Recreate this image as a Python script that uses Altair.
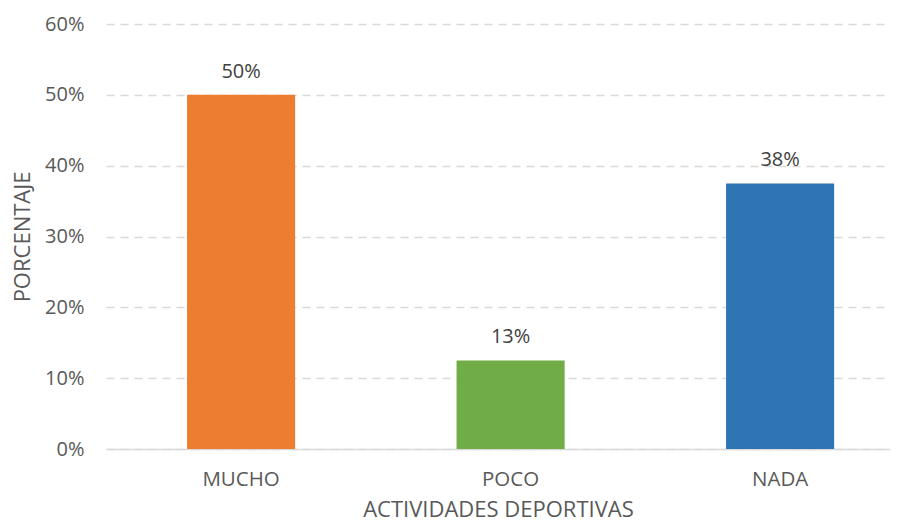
import altair as alt
import pandas as pd

categories = ["MUCHO", "POCO", "NADA"]
values = [0.50, 0.125, 0.375]
labels = ["50%", "13%", "38%"]
colors = ["#ED7D31", "#70AD47", "#2E75B6"]

df = pd.DataFrame({"cat": categories, "val": values, "lab": labels, "col": colors})

FONT = "Open Sans"

x = alt.X("cat:N", sort=categories,
          scale=alt.Scale(paddingInner=0.599, paddingOuter=0.254, align=0.592),
          axis=alt.Axis(title="ACTIVIDADES DEPORTIVAS", labelAngle=0, ticks=False,
                        domain=True, domainColor="#D9D9D9", domainWidth=1.5,
                        labelFontSize=20.5, labelColor="#595959", labelFont=FONT,
                        labelPadding=20, titleFontSize=22, titleColor="#595959",
                        titleFont=FONT, titleFontWeight="normal",
                        titleY=67, titleBaseline="alphabetic"))
y = alt.Y("val:Q", scale=alt.Scale(domain=[0, 0.6], nice=False),
          axis=alt.Axis(title="PORCENTAJE", format=".0%", values=[0, .1, .2, .3, .4, .5, .6],
                        ticks=False, domain=False, grid=True, gridColor="#D9D9D9",
                        gridDash=[8, 6], gridWidth=1.5, labelFontSize=20,
                        labelColor="#595959", labelFont=FONT, labelPadding=22,
                        titleFontSize=22, titleColor="#595959", titleFont=FONT,
                        titleFontWeight="normal", titlePadding=10))

bars = alt.Chart(df).mark_bar().encode(
    x=x, y=y, color=alt.Color("col:N", scale=None))

text = alt.Chart(df).mark_text(dy=-17, baseline="alphabetic", fontSize=20,
                               font=FONT, color="#404040").encode(
    x=alt.X("cat:N", sort=categories), y="val:Q", text="lab:N")

chart = (bars + text).properties(
    width=784, height=425,
    autosize=alt.AutoSizeParams(type="none"),
    padding={"left": 98, "top": 16, "right": 2, "bottom": 69},
    background="white",
).configure_view(stroke=None, strokeWidth=0)

chart.save("out.html", embed_options={"renderer": "svg", "actions": False})
